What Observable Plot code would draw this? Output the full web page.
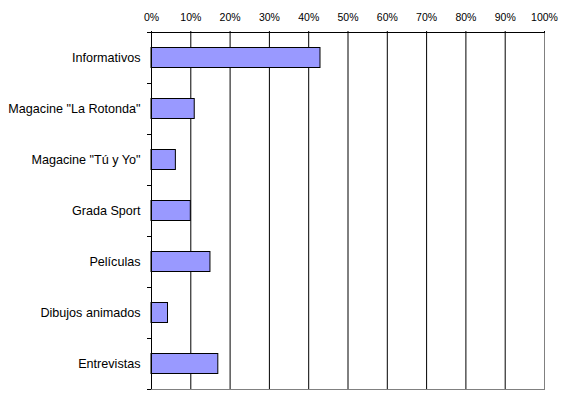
<!DOCTYPE html>
<html>
<head>
<meta charset="utf-8">
<script src="https://cdn.jsdelivr.net/npm/d3@7"></script>
<script src="https://cdn.jsdelivr.net/npm/@observablehq/plot@0.6"></script>
<style>
  html, body { margin: 0; padding: 0; background: white; }
  #chart svg { display: block; }
</style>
</head>
<body>
<div id="chart"></div>
<script>
const categories = ["Informativos", 'Magacine "La Rotonda"', 'Magacine "Tú y Yo"', "Grada Sport", "Películas", "Dibujos animados", "Entrevistas"];
const values = [0.43, 0.11, 0.062, 0.10, 0.15, 0.042, 0.17];
const xTicks = [0, 0.1, 0.2, 0.3, 0.4, 0.5, 0.6, 0.7, 0.8, 0.9, 1.0];
const xTickLabels = ["0%", "10%", "20%", "30%", "40%", "50%", "60%", "70%", "80%", "90%", "100%"];

const data = categories.map((c, i) => ({cat: c, value: values[i]}));

const chart = Plot.plot({
  width: 565,
  height: 394,
  marginLeft: 151,
  marginRight: 21,
  marginTop: 32,
  marginBottom: 5,
  style: {fontFamily: "'Liberation Sans', Arial, sans-serif", background: "white", color: "black"},
  x: {domain: [0, 1], label: null},
  y: {domain: categories, padding: 0, label: null},
  marks: [
    Plot.ruleX(xTicks.slice(1, -1), {stroke: "black", strokeWidth: 1}),
    Plot.frame({stroke: "#808080"}),
    Plot.barX(data, {x: "value", y: "cat", fill: "#9999FF", stroke: "black", strokeWidth: 1, insetTop: 15.5, insetBottom: 15.5}),
    Plot.ruleX([0], {stroke: "black"}),
    Plot.ruleY([categories[0]], {dy: -25.5, stroke: "black"}),
    Plot.axisX({anchor: "top", label: null, ticks: xTicks, tickFormat: (d, i) => xTickLabels[i], tickSize: 2, tickPadding: 10, fontSize: 10.5, stroke: "black", fill: "black"}),
    Plot.axisY({label: null, tickSize: 0, tickPadding: 11, fontSize: 12.6, fill: "black"}),
    Plot.axisY(categories, {label: null, tickSize: 4, tickFormat: () => "", dy: -25.5, stroke: "black"}),
    Plot.axisY([categories[categories.length - 1]], {label: null, tickSize: 4, tickFormat: () => "", dy: 25.5, stroke: "black"})
  ]
});
document.getElementById("chart").appendChild(chart);
</script>
</body>
</html>
